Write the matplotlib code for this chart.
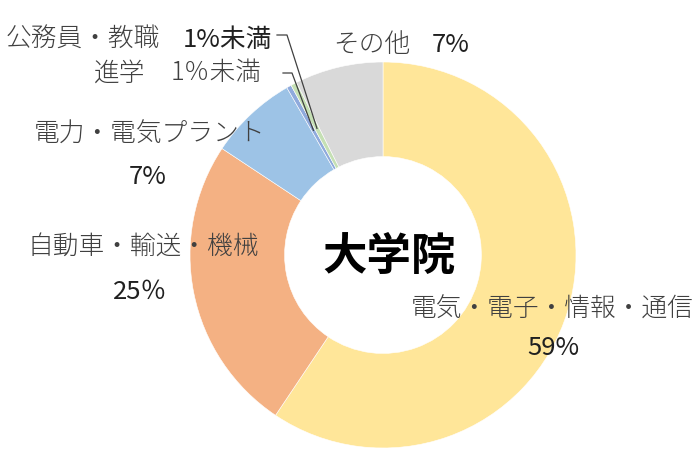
import numpy as np
import matplotlib
matplotlib.use("Agg")
import matplotlib.pyplot as plt
from matplotlib.lines import Line2D

plt.rcParams['font.family'] = ['Noto Sans CJK JP', 'DejaVu Sans']

# shares (%), clockwise from 12 o'clock
categories = ["電気・電子・情報・通信", "自動車・輸送・機械", "電力・電気プラント",
              "進学", "公務員・教職", "その他"]
values = [59.4, 24.9, 7.4, 0.4, 0.5, 7.4]
pct_labels = ["59%", "25％", "7%", "1％未満", "1%未満", "7%"]
colors = ["#FFE699", "#F4B183", "#9DC3E6", "#8FAADC", "#C5E0B4", "#D9D9D9"]

W, H = 700, 470
fig = plt.figure(figsize=(7, 4.7), dpi=100)

# donut centre (383, 255) px, radius 193 px
cx, cy, R = 383, 255, 193
ax = fig.add_axes([(cx - R) / W, (H - cy - R) / H, 2 * R / W, 2 * R / H])
wedges, _ = ax.pie(values, colors=colors, startangle=90, counterclock=False,
                   radius=1, wedgeprops=dict(width=0.49, edgecolor="white", linewidth=0.4))
ax.set_xlim(-1, 1)
ax.set_ylim(-1, 1)
ax.set_aspect("equal")
ax.axis("off")

ax.text(0.03, -0.01, "大学院", ha="center", va="center", fontsize=32,
        fontweight="bold", color="black")

txt = "#404040"
fs = 18.5


def ftext(px, py, s, **kw):
    kw.setdefault("fontsize", fs)
    kw.setdefault("color", txt)
    kw.setdefault("va", "center")
    kw.setdefault("fontweight", "light")
    fig.text(px / W, 1 - py / H, s, **kw)


# category names (light) and percentages (regular)
ftext(552, 309, categories[0], ha="center")
ftext(553, 348, pct_labels[0], ha="center", color="#202020", fontweight="normal")
ftext(143, 247, categories[1], ha="center")
ftext(140, 292, pct_labels[1], ha="center", color="#202020", fontweight="normal")
ftext(150, 135, categories[2], ha="center")
ftext(148, 177, pct_labels[2], ha="center", color="#202020", fontweight="normal")
ftext(145, 73, categories[3], ha="right")
ftext(262, 73, pct_labels[3], ha="right")
ftext(160, 40, categories[4], ha="right")
ftext(272, 40, pct_labels[4], ha="right", color="#202020", fontweight="normal")
ftext(410, 45, categories[5], ha="right")
ftext(470, 45, pct_labels[5], ha="right", color="#202020", fontweight="normal")


def leader(wedge, start, knee):
    mid = np.deg2rad((wedge.theta1 + wedge.theta2) / 2)
    pt = ax.transData.transform((0.74 * np.cos(mid), 0.74 * np.sin(mid)))
    fx, fy = fig.transFigure.inverted().transform(pt)
    xs = [start[0] / W, knee[0] / W, fx]
    ys = [1 - start[1] / H, 1 - knee[1] / H, fy]
    fig.add_artist(Line2D(xs, ys, color="#404040", lw=0.9))


leader(wedges[3], (283, 73), (292, 73))
leader(wedges[4], (277, 35), (287, 35))

fig.savefig("out.png", dpi=100)
